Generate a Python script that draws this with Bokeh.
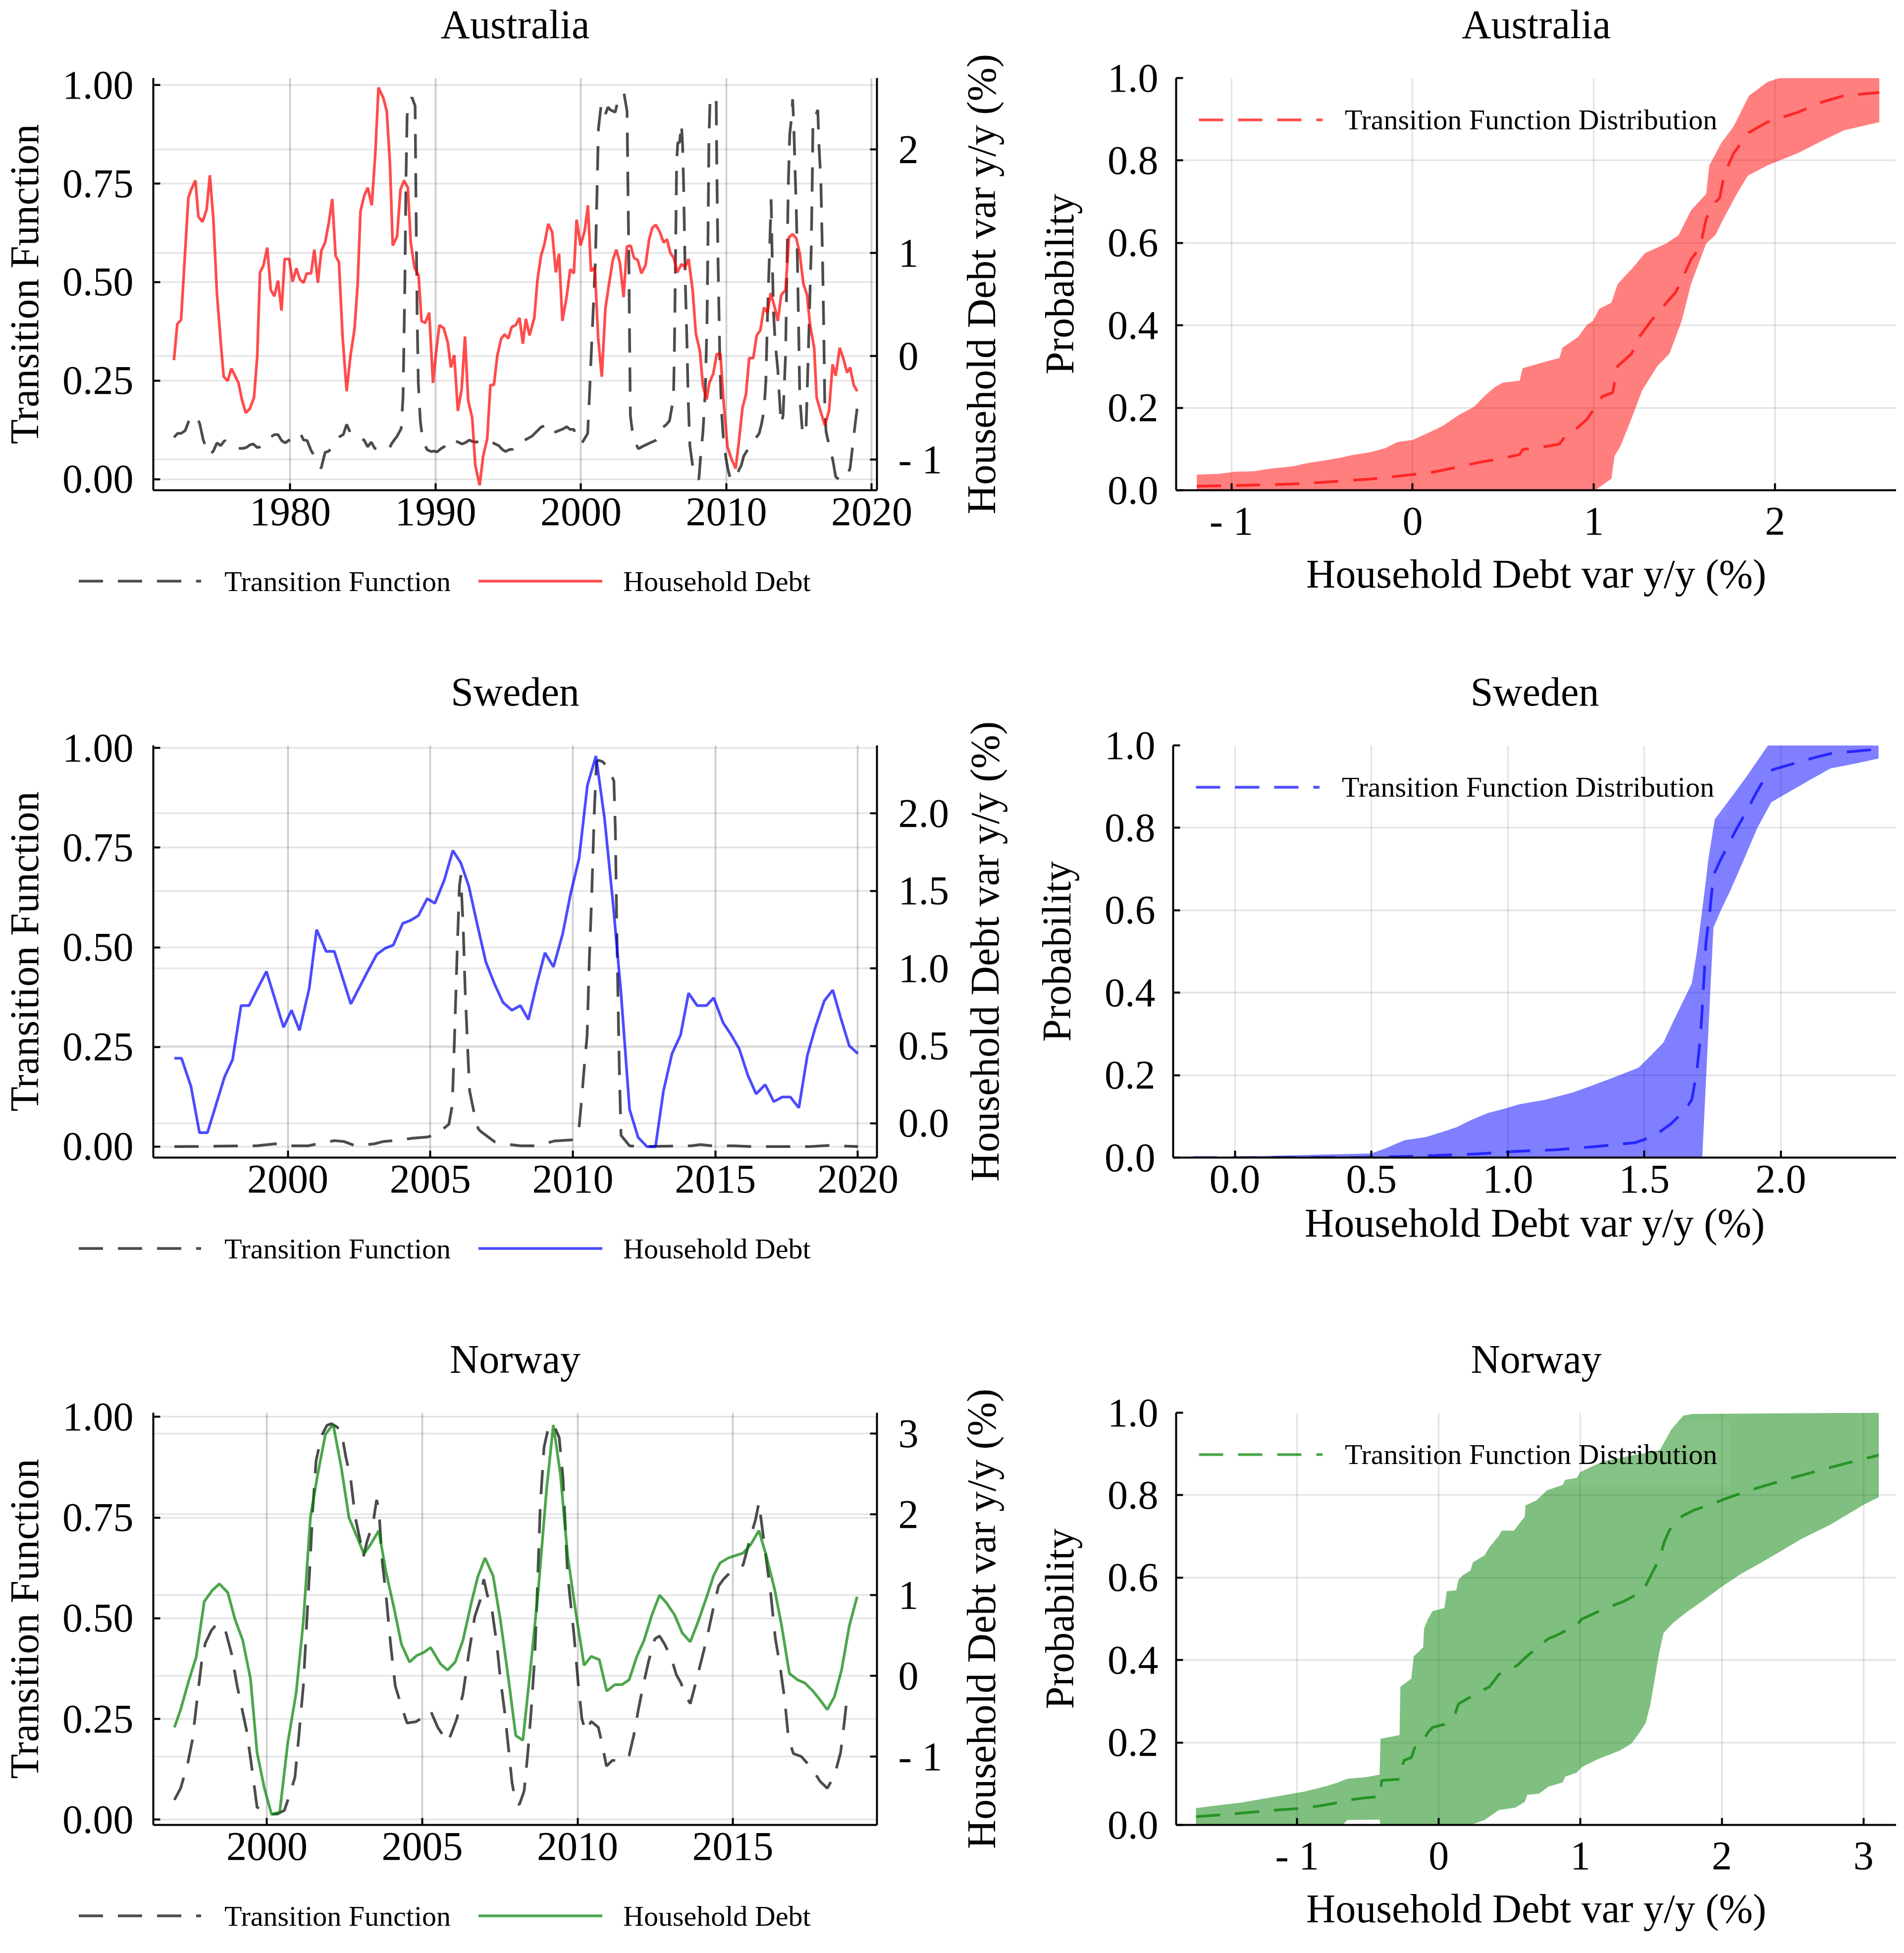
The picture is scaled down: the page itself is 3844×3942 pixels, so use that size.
from bokeh.embed import file_html
from bokeh.layouts import column, row
from bokeh.models import CustomJSTickFormatter, Div, FixedTicker, Grid, Legend, LinearAxis, Range1d
from bokeh.plotting import figure
from bokeh.resources import INLINE

FONT = 'Liberation Serif'
TF_COLOR = 'black'
LEFT_W, RIGHT_W = 1932, 1896
TOP, FRAME_H = 154, 835
ROW_H = [1347, 1347, 1232]
TS_H = TOP + FRAME_H + 132          # time-series figure; its legend strip sits below it
HD_LABEL = 'Household Debt var y/y (%)'
LINE_W = 5.5

# ---- Australia: household debt (y/y %) and transition function over time
AUS_HD = [
    (1972.00, -0.04), (1972.23, 0.31), (1972.49, 0.35), (1972.99, 1.53), (1973.18, 1.61), (1973.48, 1.70),
    (1973.68, 1.35), (1973.97, 1.30), (1974.25, 1.42), (1974.47, 1.75), (1974.71, 1.33), (1974.96, 0.60),
    (1975.21, 0.15), (1975.42, -0.20), (1975.70, -0.24), (1975.95, -0.12), (1976.20, -0.19), (1976.44, -0.26),
    (1976.69, -0.43), (1976.94, -0.55), (1977.22, -0.51), (1977.51, -0.40), (1977.73, 0.00), (1977.92, 0.81),
    (1978.14, 0.87), (1978.42, 1.05), (1978.66, 0.64), (1978.91, 0.58), (1979.16, 0.73), (1979.40, 0.44),
    (1979.62, 0.94), (1979.93, 0.94), (1980.16, 0.72), (1980.42, 0.85), (1980.67, 0.74), (1980.92, 0.71),
    (1981.13, 0.80), (1981.43, 0.80), (1981.66, 1.03), (1981.90, 0.71), (1982.14, 1.02), (1982.40, 1.10),
    (1982.65, 1.29), (1982.89, 1.52), (1983.12, 0.97), (1983.35, 0.91), (1983.60, 0.19), (1983.88, -0.34),
    (1984.14, 0.00), (1984.42, 0.26), (1984.64, 0.70), (1984.83, 1.40), (1985.08, 1.55), (1985.33, 1.63),
    (1985.61, 1.46), (1985.85, 1.96), (1986.07, 2.60), (1986.40, 2.50), (1986.64, 2.37), (1986.86, 1.86),
    (1987.05, 1.07), (1987.35, 1.16), (1987.58, 1.61), (1987.83, 1.70), (1988.09, 1.63), (1988.29, 1.10),
    (1988.54, 0.86), (1988.83, 0.78), (1989.03, 0.34), (1989.28, 0.32), (1989.56, 0.42), (1989.82, -0.26),
    (1990.02, 0.02), (1990.26, 0.30), (1990.56, 0.27), (1990.84, 0.13), (1991.05, -0.11), (1991.28, 0.01),
    (1991.53, -0.53), (1991.79, -0.32), (1992.02, 0.19), (1992.24, -0.43), (1992.52, -0.60), (1992.73, -1.06),
    (1993.03, -1.25), (1993.27, -0.97), (1993.55, -0.80), (1993.77, -0.28), (1994.01, -0.28), (1994.24, 0.00),
    (1994.51, 0.17), (1994.75, 0.21), (1995.00, 0.17), (1995.23, 0.28), (1995.51, 0.30), (1995.77, 0.37),
    (1996.00, 0.12), (1996.21, 0.36), (1996.46, 0.20), (1996.79, 0.37), (1997.00, 0.73), (1997.25, 0.97),
    (1997.48, 1.08), (1997.75, 1.28), (1998.02, 1.20), (1998.27, 0.81), (1998.49, 0.99), (1998.72, 0.34),
    (1999.01, 0.57), (1999.26, 0.84), (1999.51, 0.80), (1999.70, 1.32), (1999.97, 1.07), (2000.25, 1.21),
    (2000.48, 1.46), (2000.69, 0.82), (2000.95, 0.86), (2001.18, 0.18), (2001.43, -0.20), (2001.68, 0.46),
    (2001.92, 0.69), (2002.19, 0.93), (2002.43, 1.03), (2002.68, 0.90), (2002.93, 0.57), (2003.16, 1.06),
    (2003.42, 1.07), (2003.65, 0.95), (2003.90, 0.93), (2004.16, 0.80), (2004.44, 0.88), (2004.69, 1.13),
    (2004.90, 1.24), (2005.15, 1.27), (2005.43, 1.20), (2005.68, 1.10), (2005.92, 1.13), (2006.14, 1.00),
    (2006.38, 0.95), (2006.63, 0.81), (2006.91, 0.89), (2007.16, 0.86), (2007.40, 0.94), (2007.68, 0.64),
    (2007.90, 0.22), (2008.18, 0.05), (2008.39, -0.29), (2008.64, -0.42), (2008.83, -0.26), (2009.10, -0.17),
    (2009.34, 0.02), (2009.59, 0.02), (2009.82, -0.46), (2010.08, -0.88), (2010.36, -1.00), (2010.64, -1.09),
    (2010.86, -0.83), (2011.11, -0.50), (2011.35, -0.37), (2011.57, -0.02), (2011.85, -0.02), (2012.09, 0.20),
    (2012.34, 0.25), (2012.59, 0.47), (2012.83, 0.42), (2013.05, 0.61), (2013.33, 0.47), (2013.54, 0.34),
    (2013.77, 0.59), (2014.07, 0.64), (2014.31, 1.15), (2014.56, 1.18), (2014.81, 1.14), (2015.05, 0.99),
    (2015.30, 0.70), (2015.55, 0.59), (2015.76, 0.30), (2016.04, 0.08), (2016.21, -0.40), (2016.49, -0.54),
    (2016.78, -0.67), (2017.06, -0.53), (2017.31, -0.08), (2017.52, -0.19), (2017.80, 0.08), (2018.06, -0.03),
    (2018.30, -0.16), (2018.51, -0.11), (2018.76, -0.28), (2019.00, -0.34),
]
AUS_TF = [
    (1972.00, 0.106), (1972.25, 0.116), (1972.49, 0.116), (1972.77, 0.123), (1973.02, 0.147), (1973.32, 0.161),
    (1973.56, 0.159), (1973.78, 0.140), (1974.01, 0.100), (1974.27, 0.075), (1974.43, 0.061), (1974.71, 0.071),
    (1974.96, 0.092), (1975.21, 0.085), (1975.49, 0.098), (1975.78, 0.089), (1976.11, 0.082), (1976.41, 0.078),
    (1976.74, 0.078), (1976.97, 0.080), (1977.23, 0.087), (1977.46, 0.089), (1977.73, 0.080), (1977.92, 0.082),
    (1978.25, 0.092), (1978.66, 0.107), (1978.91, 0.113), (1979.16, 0.113), (1979.40, 0.098), (1979.65, 0.092),
    (1980.01, 0.101), (1980.34, 0.109), (1980.67, 0.118), (1980.92, 0.099), (1981.16, 0.098), (1981.43, 0.073),
    (1981.79, 0.051), (1982.12, 0.027), (1982.40, 0.068), (1982.61, 0.070), (1982.78, 0.076), (1983.11, 0.092),
    (1983.44, 0.109), (1983.65, 0.113), (1983.88, 0.139), (1984.13, 0.118), (1984.31, 0.118), (1984.70, 0.107),
    (1985.08, 0.099), (1985.33, 0.082), (1985.57, 0.094), (1985.82, 0.078), (1986.15, 0.073), (1986.48, 0.073),
    (1986.81, 0.078), (1987.01, 0.092), (1987.35, 0.109), (1987.63, 0.128), (1987.76, 0.209), (1987.88, 0.483),
    (1987.96, 0.758), (1988.04, 0.923), (1988.16, 0.947), (1988.37, 0.969), (1988.59, 0.947), (1988.65, 0.703),
    (1988.73, 0.415), (1988.81, 0.243), (1988.95, 0.147), (1989.11, 0.099), (1989.41, 0.075), (1989.69, 0.070),
    (1989.90, 0.071), (1990.10, 0.069), (1990.39, 0.078), (1990.59, 0.082), (1990.84, 0.099), (1991.25, 0.099),
    (1991.83, 0.089), (1992.07, 0.093), (1992.32, 0.099), (1992.57, 0.095), (1992.81, 0.094), (1993.11, 0.097),
    (1993.39, 0.099), (1993.88, 0.093), (1994.34, 0.085), (1994.59, 0.075), (1994.82, 0.070), (1995.08, 0.075),
    (1995.31, 0.076), (1995.47, 0.084), (1995.72, 0.087), (1996.13, 0.099), (1996.63, 0.109), (1996.96, 0.121),
    (1997.25, 0.132), (1997.48, 0.135), (1997.75, 0.116), (1998.27, 0.120), (1998.80, 0.128), (1999.01, 0.133),
    (1999.26, 0.126), (1999.51, 0.126), (1999.72, 0.098), (2000.08, 0.092), (2000.46, 0.116), (2000.58, 0.209),
    (2000.74, 0.346), (2000.99, 0.552), (2001.10, 0.724), (2001.20, 0.889), (2001.40, 0.954), (2001.56, 0.940),
    (2001.69, 0.927), (2001.86, 0.944), (2002.02, 0.937), (2002.35, 0.931), (2002.55, 0.961), (2002.71, 0.975),
    (2002.96, 0.979), (2003.17, 0.933), (2003.22, 0.772), (2003.29, 0.566), (2003.34, 0.367), (2003.40, 0.161),
    (2003.54, 0.119), (2003.70, 0.095), (2003.95, 0.077), (2004.19, 0.082), (2004.69, 0.091), (2005.18, 0.099),
    (2005.38, 0.111), (2005.64, 0.132), (2005.84, 0.137), (2006.09, 0.148), (2006.28, 0.188), (2006.37, 0.223),
    (2006.42, 0.312), (2006.50, 0.552), (2006.58, 0.806), (2006.66, 0.854), (2006.78, 0.854), (2006.91, 0.902),
    (2006.99, 0.847), (2007.06, 0.744), (2007.12, 0.621), (2007.19, 0.483), (2007.29, 0.346), (2007.37, 0.209),
    (2007.49, 0.085), (2007.68, 0.034), (2007.90, 0.003), (2008.11, 0.000), (2008.23, 0.058), (2008.39, 0.120),
    (2008.55, 0.223), (2008.67, 0.401), (2008.74, 0.621), (2008.80, 0.861), (2008.88, 0.964), (2009.05, 0.971),
    (2009.30, 0.964), (2009.34, 0.806), (2009.41, 0.593), (2009.49, 0.429), (2009.56, 0.291), (2009.66, 0.175),
    (2009.79, 0.106), (2009.95, 0.058), (2010.12, 0.023), (2010.28, 0.000), (2010.61, 0.000), (2010.86, 0.023),
    (2011.02, 0.034), (2011.19, 0.058), (2011.40, 0.071), (2011.60, 0.082), (2011.93, 0.099), (2012.26, 0.116),
    (2012.42, 0.140), (2012.59, 0.174), (2012.72, 0.250), (2012.83, 0.415), (2012.95, 0.552), (2013.03, 0.648),
    (2013.08, 0.710), (2013.14, 0.587), (2013.24, 0.428), (2013.36, 0.346), (2013.54, 0.278), (2013.66, 0.202),
    (2013.77, 0.140), (2013.90, 0.161), (2014.07, 0.312), (2014.20, 0.607), (2014.26, 0.744), (2014.36, 0.875),
    (2014.48, 0.916), (2014.56, 0.964), (2014.64, 0.896), (2014.72, 0.792), (2014.81, 0.683), (2014.89, 0.552),
    (2014.97, 0.387), (2015.05, 0.209), (2015.22, 0.126), (2015.47, 0.113), (2015.55, 0.209), (2015.71, 0.415),
    (2015.84, 0.587), (2015.91, 0.758), (2015.96, 0.913), (2016.12, 0.920), (2016.29, 0.937), (2016.37, 0.848),
    (2016.50, 0.758), (2016.62, 0.552), (2016.70, 0.380), (2016.78, 0.168), (2016.86, 0.120), (2017.03, 0.092),
    (2017.19, 0.071), (2017.36, 0.041), (2017.52, 0.006), (2017.72, 0.000), (2018.15, 0.000), (2018.51, 0.027),
    (2018.67, 0.078), (2018.84, 0.133), (2019.00, 0.181),
]

# ---- Sweden
SWE_HD = [
    (1996.02, 0.42), (1996.27, 0.42), (1996.60, 0.24), (1996.90, -0.06), (1997.18, -0.06), (1997.48, 0.12),
    (1997.78, 0.30), (1998.06, 0.41), (1998.36, 0.76), (1998.64, 0.76), (1998.94, 0.87), (1999.25, 0.98),
    (1999.55, 0.80), (1999.85, 0.62), (2000.13, 0.73), (2000.41, 0.60), (2000.75, 0.87), (2001.01, 1.25),
    (2001.34, 1.11), (2001.63, 1.11), (2001.92, 0.94), (2002.21, 0.77), (2002.49, 0.87), (2002.80, 0.98),
    (2003.12, 1.09), (2003.42, 1.13), (2003.70, 1.15), (2004.03, 1.29), (2004.31, 1.31), (2004.58, 1.34),
    (2004.89, 1.45), (2005.16, 1.42), (2005.49, 1.57), (2005.79, 1.76), (2006.07, 1.68), (2006.35, 1.53),
    (2006.65, 1.28), (2006.95, 1.04), (2007.25, 0.90), (2007.55, 0.78), (2007.86, 0.73), (2008.16, 0.76),
    (2008.44, 0.67), (2008.72, 0.89), (2009.02, 1.10), (2009.32, 1.01), (2009.64, 1.22), (2009.92, 1.48),
    (2010.22, 1.71), (2010.51, 2.18), (2010.81, 2.37), (2011.11, 1.97), (2011.41, 1.42), (2011.69, 0.84),
    (2011.99, 0.09), (2012.29, -0.09), (2012.60, -0.15), (2012.90, -0.15), (2013.18, 0.21), (2013.48, 0.45),
    (2013.78, 0.57), (2014.06, 0.84), (2014.36, 0.76), (2014.69, 0.76), (2014.94, 0.81), (2015.27, 0.65),
    (2015.56, 0.57), (2015.84, 0.48), (2016.14, 0.31), (2016.43, 0.19), (2016.75, 0.25), (2017.05, 0.14),
    (2017.35, 0.17), (2017.63, 0.17), (2017.93, 0.10), (2018.23, 0.44), (2018.51, 0.62), (2018.82, 0.79),
    (2019.12, 0.86), (2019.40, 0.68), (2019.70, 0.50), (2020.00, 0.45),
]
SWE_TF = [
    (1996.02, 0.000), (1998.89, 0.002), (1999.55, 0.007), (1999.88, 0.002), (2000.71, 0.002), (2001.04, 0.007),
    (2001.63, 0.015), (2001.96, 0.013), (2002.37, 0.002), (2003.03, 0.007), (2003.37, 0.013), (2003.86, 0.016),
    (2004.36, 0.021), (2004.89, 0.024), (2005.22, 0.031), (2005.65, 0.056), (2005.77, 0.104), (2005.85, 0.278),
    (2005.94, 0.486), (2006.02, 0.653), (2006.07, 0.681), (2006.12, 0.598), (2006.15, 0.556), (2006.22, 0.396),
    (2006.32, 0.229), (2006.38, 0.139), (2006.52, 0.090), (2006.68, 0.045), (2006.77, 0.038), (2007.26, 0.012),
    (2007.68, 0.006), (2008.18, 0.002), (2008.67, 0.002), (2009.00, 0.007), (2009.34, 0.014), (2010.00, 0.017),
    (2010.20, 0.035), (2010.30, 0.111), (2010.41, 0.208), (2010.50, 0.278), (2010.58, 0.473), (2010.66, 0.625),
    (2010.75, 0.834), (2010.83, 0.966), (2010.91, 0.969), (2011.03, 0.966), (2011.24, 0.952), (2011.44, 0.917),
    (2011.49, 0.799), (2011.54, 0.556), (2011.59, 0.347), (2011.63, 0.195), (2011.69, 0.028), (2011.99, 0.002),
    (2012.32, 0.000), (2014.15, 0.002), (2014.48, 0.005), (2014.89, 0.002), (2015.64, 0.002), (2016.30, 0.000),
    (2018.29, 0.000), (2018.96, 0.003), (2020.00, 0.000),
]

# ---- Norway
NOR_HD = [
    (1997.02, -0.64), (1997.22, -0.42), (1997.49, -0.05), (1997.72, 0.23), (1997.98, 0.92), (1998.24, 1.06),
    (1998.47, 1.14), (1998.74, 1.03), (1998.97, 0.70), (1999.22, 0.44), (1999.47, -0.04), (1999.68, -0.95),
    (1999.92, -1.40), (2000.15, -1.72), (2000.41, -1.69), (2000.67, -0.83), (2000.94, -0.21), (2001.17, 0.67),
    (2001.40, 1.97), (2001.63, 2.49), (2001.88, 2.99), (2002.13, 3.12), (2002.39, 2.59), (2002.64, 1.96),
    (2002.89, 1.73), (2003.12, 1.51), (2003.34, 1.63), (2003.60, 1.80), (2003.83, 1.29), (2004.09, 0.84),
    (2004.33, 0.39), (2004.59, 0.17), (2004.82, 0.25), (2005.05, 0.29), (2005.27, 0.35), (2005.58, 0.15),
    (2005.81, 0.07), (2006.06, 0.17), (2006.31, 0.44), (2006.57, 0.89), (2006.79, 1.23), (2007.02, 1.46),
    (2007.28, 1.24), (2007.52, 0.68), (2007.78, -0.05), (2008.01, -0.74), (2008.24, -0.80), (2008.50, 0.15),
    (2008.74, 1.08), (2009.00, 2.30), (2009.22, 3.11), (2009.45, 2.49), (2009.68, 1.49), (2009.95, 0.77),
    (2010.21, 0.13), (2010.44, 0.24), (2010.70, 0.20), (2010.94, -0.19), (2011.20, -0.11), (2011.43, -0.11),
    (2011.66, -0.05), (2011.91, 0.24), (2012.14, 0.44), (2012.39, 0.75), (2012.64, 1.00), (2012.87, 0.90),
    (2013.13, 0.75), (2013.37, 0.53), (2013.63, 0.42), (2013.89, 0.68), (2014.16, 0.98), (2014.39, 1.25),
    (2014.59, 1.40), (2014.85, 1.46), (2015.08, 1.49), (2015.33, 1.52), (2015.58, 1.63), (2015.84, 1.80),
    (2016.06, 1.51), (2016.34, 1.08), (2016.57, 0.62), (2016.82, 0.03), (2017.08, -0.05), (2017.32, -0.09),
    (2017.58, -0.19), (2017.81, -0.30), (2018.04, -0.42), (2018.27, -0.26), (2018.50, 0.07), (2018.75, 0.62),
    (2019.00, 0.98),
]
NOR_TF = [
    (1997.02, 0.049), (1997.22, 0.078), (1997.45, 0.140), (1997.60, 0.198), (1997.75, 0.298), (1997.90, 0.394),
    (1998.01, 0.437), (1998.21, 0.470), (1998.40, 0.487), (1998.66, 0.470), (1998.86, 0.412), (1999.04, 0.332),
    (1999.19, 0.277), (1999.35, 0.219), (1999.53, 0.119), (1999.68, 0.031), (1999.83, 0.024), (2000.11, 0.014),
    (2000.33, 0.014), (2000.56, 0.023), (2000.71, 0.057), (2000.90, 0.105), (2001.02, 0.202), (2001.17, 0.332),
    (2001.29, 0.504), (2001.40, 0.656), (2001.47, 0.766), (2001.58, 0.890), (2001.75, 0.952), (2001.93, 0.979),
    (2002.08, 0.983), (2002.23, 0.976), (2002.39, 0.966), (2002.54, 0.900), (2002.69, 0.849), (2002.84, 0.752),
    (2002.99, 0.697), (2003.10, 0.652), (2003.22, 0.690), (2003.42, 0.738), (2003.53, 0.794), (2003.60, 0.773),
    (2003.71, 0.642), (2003.83, 0.560), (2003.98, 0.436), (2004.13, 0.332), (2004.32, 0.284), (2004.51, 0.240),
    (2004.79, 0.243), (2005.09, 0.257), (2005.27, 0.270), (2005.50, 0.229), (2005.81, 0.193), (2005.91, 0.209),
    (2006.11, 0.250), (2006.31, 0.312), (2006.49, 0.408), (2006.69, 0.504), (2006.87, 0.546), (2006.98, 0.597),
    (2007.13, 0.546), (2007.25, 0.518), (2007.40, 0.436), (2007.52, 0.346), (2007.66, 0.264), (2007.78, 0.174),
    (2007.89, 0.092), (2008.01, 0.040), (2008.13, 0.038), (2008.28, 0.071), (2008.40, 0.167), (2008.50, 0.264),
    (2008.62, 0.401), (2008.69, 0.539), (2008.80, 0.780), (2008.92, 0.924), (2009.04, 0.966), (2009.22, 0.983),
    (2009.41, 0.948), (2009.53, 0.849), (2009.68, 0.608), (2009.88, 0.463), (2010.02, 0.339), (2010.14, 0.250),
    (2010.26, 0.219), (2010.44, 0.244), (2010.67, 0.229), (2010.79, 0.188), (2010.93, 0.133), (2011.12, 0.147),
    (2011.43, 0.147), (2011.66, 0.160), (2011.81, 0.209), (2011.96, 0.274), (2012.11, 0.332), (2012.29, 0.394),
    (2012.49, 0.449), (2012.64, 0.456), (2012.80, 0.436), (2013.02, 0.401), (2013.18, 0.360), (2013.33, 0.339),
    (2013.48, 0.308), (2013.63, 0.288), (2013.78, 0.332), (2013.94, 0.381), (2014.16, 0.449), (2014.39, 0.532),
    (2014.54, 0.580), (2014.70, 0.597), (2014.88, 0.611), (2015.12, 0.621), (2015.33, 0.632), (2015.53, 0.690),
    (2015.73, 0.745), (2015.84, 0.787), (2015.91, 0.745), (2016.06, 0.656), (2016.22, 0.560), (2016.37, 0.449),
    (2016.52, 0.381), (2016.67, 0.298), (2016.79, 0.202), (2016.95, 0.164), (2017.20, 0.157), (2017.40, 0.140),
    (2017.58, 0.123), (2017.81, 0.095), (2018.04, 0.078), (2018.27, 0.109), (2018.47, 0.167), (2018.57, 0.229),
    (2018.69, 0.312),
]

# ---- transition function distribution vs household debt: upper / lower band and mean
AUS_UPPER = [
    (-1.191, 0.038), (-1.063, 0.040), (-0.979, 0.045), (-0.877, 0.046), (-0.776, 0.053), (-0.658, 0.058),
    (-0.591, 0.065), (-0.506, 0.071), (-0.405, 0.078), (-0.337, 0.085), (-0.236, 0.092), (-0.152, 0.102),
    (-0.084, 0.117), (0.000, 0.122), (0.101, 0.142), (0.169, 0.157), (0.253, 0.182), (0.337, 0.202),
    (0.405, 0.232), (0.456, 0.251), (0.499, 0.261), (0.591, 0.266), (0.607, 0.296), (0.726, 0.311),
    (0.810, 0.321), (0.827, 0.346), (0.911, 0.371), (0.962, 0.401), (0.996, 0.411), (1.029, 0.440),
    (1.097, 0.455), (1.131, 0.500), (1.215, 0.540), (1.282, 0.575), (1.401, 0.599), (1.468, 0.619),
    (1.536, 0.679), (1.620, 0.719), (1.637, 0.788), (1.704, 0.843), (1.772, 0.883), (1.856, 0.957),
    (1.957, 0.990), (2.025, 1.000), (2.575, 1.000),
]
AUS_LOWER = [
    (-1.191, 0.0), (1.006, 0.0), (1.097, 0.028), (1.114, 0.083), (1.147, 0.107), (1.215, 0.182),
    (1.266, 0.242), (1.350, 0.301), (1.417, 0.331), (1.485, 0.411), (1.536, 0.500), (1.620, 0.599),
    (1.671, 0.619), (1.704, 0.649), (1.789, 0.719), (1.849, 0.763), (1.957, 0.788), (2.126, 0.818),
    (2.261, 0.848), (2.379, 0.873), (2.575, 0.893),
]
AUS_MEAN = [
    (-1.191, 0.010), (-0.911, 0.012), (-0.675, 0.015), (-0.506, 0.019), (-0.236, 0.027), (0.000, 0.038),
    (0.101, 0.043), (0.236, 0.055), (0.371, 0.068), (0.506, 0.078), (0.591, 0.087), (0.607, 0.099),
    (0.709, 0.104), (0.810, 0.112), (0.844, 0.132), (0.911, 0.152), (0.962, 0.172), (0.996, 0.194),
    (1.046, 0.227), (1.104, 0.237), (1.131, 0.301), (1.208, 0.331), (1.249, 0.371), (1.316, 0.411),
    (1.401, 0.455), (1.451, 0.480), (1.485, 0.510), (1.536, 0.560), (1.586, 0.589), (1.620, 0.659),
    (1.671, 0.699), (1.694, 0.709), (1.721, 0.768), (1.772, 0.818), (1.856, 0.868), (1.957, 0.893),
    (2.126, 0.917), (2.261, 0.942), (2.379, 0.957), (2.575, 0.965),
]

SWE_UPPER = [
    (-0.153, 0.0), (0.499, 0.010), (0.543, 0.020), (0.621, 0.042), (0.700, 0.050), (0.769, 0.064),
    (0.813, 0.074), (0.865, 0.091), (0.926, 0.108), (0.995, 0.120), (1.039, 0.129), (1.135, 0.140),
    (1.239, 0.158), (1.309, 0.175), (1.378, 0.192), (1.479, 0.218), (1.526, 0.249), (1.570, 0.279),
    (1.605, 0.329), (1.674, 0.423), (1.692, 0.497), (1.718, 0.632), (1.735, 0.726), (1.758, 0.821),
    (1.822, 0.877), (1.874, 0.924), (1.953, 1.000), (2.358, 1.000),
]
SWE_LOWER = [
    (-0.153, 0.0), (1.712, 0.0), (1.753, 0.558), (1.779, 0.598), (1.813, 0.645), (1.862, 0.719),
    (1.914, 0.800), (1.965, 0.862), (2.022, 0.884), (2.109, 0.917), (2.182, 0.944), (2.275, 0.956),
    (2.358, 0.968),
]
SWE_MEAN = [
    (-0.153, 0.000), (0.473, 0.000), (0.578, 0.002), (0.734, 0.005), (0.891, 0.009), (1.030, 0.015),
    (1.178, 0.019), (1.326, 0.027), (1.465, 0.036), (1.535, 0.052), (1.596, 0.081), (1.648, 0.114),
    (1.674, 0.141), (1.692, 0.208), (1.706, 0.296), (1.718, 0.430), (1.726, 0.524), (1.740, 0.598),
    (1.753, 0.685), (1.779, 0.722), (1.813, 0.766), (1.840, 0.800), (1.874, 0.840), (1.909, 0.884),
    (1.944, 0.924), (1.970, 0.941), (2.048, 0.956), (2.127, 0.971), (2.188, 0.981), (2.275, 0.986),
    (2.358, 0.991),
]

NOR_UPPER = [
    (-1.715, 0.041), (-1.547, 0.048), (-1.397, 0.054), (-1.247, 0.063), (-1.113, 0.071), (-0.946, 0.081),
    (-0.795, 0.094), (-0.712, 0.103), (-0.645, 0.112), (-0.511, 0.116), (-0.418, 0.122), (-0.411, 0.209),
    (-0.277, 0.218), (-0.271, 0.335), (-0.194, 0.355), (-0.177, 0.409), (-0.110, 0.431), (-0.104, 0.476),
    (-0.077, 0.499), (-0.043, 0.519), (0.040, 0.526), (0.057, 0.567), (0.124, 0.569), (0.140, 0.595),
    (0.174, 0.607), (0.224, 0.617), (0.241, 0.637), (0.324, 0.654), (0.358, 0.674), (0.424, 0.701),
    (0.445, 0.714), (0.531, 0.714), (0.608, 0.748), (0.612, 0.775), (0.692, 0.788), (0.765, 0.812),
    (0.876, 0.825), (0.892, 0.837), (0.976, 0.842), (0.999, 0.856), (1.160, 0.882), (1.360, 0.896),
    (1.561, 0.909), (1.644, 0.960), (1.728, 0.993), (1.795, 0.997), (3.108, 1.000),
]
NOR_LOWER = [
    (-1.715, 0.0), (-0.678, 0.0), (-0.645, 0.012), (-0.418, 0.013), (-0.411, 0.0), (0.224, 0.0),
    (0.324, 0.012), (0.424, 0.036), (0.541, 0.042), (0.608, 0.056), (0.625, 0.073), (0.709, 0.076),
    (0.775, 0.093), (0.876, 0.103), (0.892, 0.117), (0.976, 0.127), (1.009, 0.140), (1.126, 0.160),
    (1.277, 0.180), (1.360, 0.197), (1.410, 0.220), (1.461, 0.247), (1.494, 0.291), (1.521, 0.345),
    (1.554, 0.412), (1.588, 0.466), (1.661, 0.492), (1.761, 0.519), (1.862, 0.543), (1.995, 0.577),
    (2.129, 0.608), (2.296, 0.640), (2.430, 0.667), (2.563, 0.694), (2.764, 0.728), (2.998, 0.776),
    (3.108, 0.795),
]
NOR_MEAN = [
    (-1.715, 0.020), (-1.447, 0.027), (-1.146, 0.036), (-0.979, 0.040), (-0.846, 0.046), (-0.745, 0.052),
    (-0.645, 0.060), (-0.511, 0.066), (-0.411, 0.069), (-0.404, 0.108), (-0.277, 0.111), (-0.271, 0.130),
    (-0.244, 0.157), (-0.194, 0.163), (-0.170, 0.187), (-0.127, 0.194), (-0.077, 0.224), (-0.043, 0.237),
    (0.040, 0.244), (0.117, 0.271), (0.140, 0.294), (0.191, 0.304), (0.307, 0.326), (0.358, 0.335),
    (0.424, 0.365), (0.508, 0.378), (0.558, 0.388), (0.608, 0.405), (0.692, 0.429), (0.775, 0.452),
    (0.826, 0.459), (0.926, 0.476), (0.976, 0.486), (1.009, 0.499), (1.160, 0.523), (1.310, 0.543),
    (1.420, 0.563), (1.461, 0.580), (1.511, 0.614), (1.561, 0.647), (1.594, 0.688), (1.628, 0.714),
    (1.678, 0.738), (1.728, 0.751), (1.811, 0.765), (1.928, 0.778), (2.029, 0.792), (2.196, 0.812),
    (2.363, 0.829), (2.497, 0.842), (2.731, 0.864), (2.898, 0.879), (3.108, 0.897),
]


def split(pairs):
    return [a for a, _ in pairs], [b for _, b in pairs]


def tick_format(digits):
    # GR style minus: "- 1"
    return CustomJSTickFormatter(args=dict(d=digits), code="""
        const s = Math.abs(tick).toFixed(d);
        return tick < 0 ? '- ' + s : s;
    """)


def style_axis(ax, standoff, label_standoff):
    ax.axis_line_width = 4
    ax.axis_line_color = 'black'
    ax.major_tick_in = 14
    ax.major_tick_out = 0
    ax.major_tick_line_width = 4
    ax.major_tick_line_color = 'black'
    ax.minor_tick_line_color = None
    ax.major_label_standoff = standoff
    ax.axis_label_standoff = label_standoff
    ax.major_label_text_font = FONT
    ax.major_label_text_font_size = '82px'
    ax.major_label_text_color = 'black'
    ax.axis_label_text_font = FONT
    ax.axis_label_text_font_size = '82px'
    ax.axis_label_text_font_style = 'normal'
    ax.axis_label_text_color = 'black'


def text_axis(text, standoff):
    # an axis with no ticks, used only to carry a text (titles, outer labels)
    ax = LinearAxis(ticker=FixedTicker(ticks=[]), axis_label=text)
    style_axis(ax, 0, standoff)
    ax.axis_line_color = None
    ax.major_tick_in = 0
    return ax


def style_grid(grids, alpha):
    grids.grid_line_color = 'black'
    grids.grid_line_alpha = alpha
    grids.grid_line_width = 3.5


def series_panel(title, tf, hd, color, x_range, tf_range, hd_range, x_ticks, hd_ticks, hd_digits):
    p = figure(width=LEFT_W, height=TS_H, x_range=Range1d(*x_range), y_range=Range1d(*tf_range),
               min_border_left=303, min_border_right=LEFT_W - 303 - 1467, min_border_top=TOP,
               min_border_bottom=TS_H - TOP - FRAME_H,
               output_backend='svg', toolbar_location=None)
    p.outline_line_color = None
    tf_axis = p.left[0]
    x_axis = p.below[0]
    p.add_layout(text_axis(title, 63), 'above')

    p.extra_y_ranges = {'hd': Range1d(*hd_range)}
    hd_axis = LinearAxis(y_range_name='hd', ticker=FixedTicker(ticks=hd_ticks), formatter=tick_format(hd_digits))
    p.add_layout(hd_axis, 'right')
    hd_grid = Grid(dimension=1, ticker=FixedTicker(ticks=hd_ticks), y_range_name='hd')
    p.add_layout(hd_grid)

    tf_axis.axis_label = 'Transition Function'
    tf_axis.ticker = FixedTicker(ticks=[0, 0.25, 0.5, 0.75, 1])
    tf_axis.formatter = tick_format(2)
    x_axis.ticker = FixedTicker(ticks=x_ticks)
    x_axis.formatter = tick_format(0)
    style_axis(tf_axis, 40, 28)
    style_axis(hd_axis, 43, 0)
    style_axis(x_axis, 16, 0)
    style_grid(p.xgrid, 0.2)
    style_grid(p.ygrid, 0.1)
    style_grid(hd_grid, 0.1)

    tx, ty = split(tf)
    hx, hy = split(hd)
    p.line(tx, ty, line_color=TF_COLOR, line_alpha=0.7, line_width=LINE_W, line_dash='49 30')
    p.line(hx, hy, y_range_name='hd', line_color=color, line_alpha=0.7, line_width=LINE_W)
    return p


def legend_strip(color, height):
    # legend of the time-series panel; it starts left of the panel's frame, so it is drawn
    # in a strip of its own under the figure
    cy = 52
    font = f"font-family: '{FONT}', serif; font-size: 58px; fill: black;"
    svg = f"""
<svg xmlns="http://www.w3.org/2000/svg" width="{LEFT_W}" height="{height}">
  <line x1="159" y1="{cy}" x2="406" y2="{cy}" stroke="{TF_COLOR}" stroke-opacity="0.7"
        stroke-width="{LINE_W}" stroke-dasharray="49 30"/>
  <text x="453" y="{cy}" dominant-baseline="central" style="{font}">Transition Function</text>
  <line x1="966" y1="{cy}" x2="1216" y2="{cy}" stroke="{color}" stroke-opacity="0.7"
        stroke-width="{LINE_W}"/>
  <text x="1258" y="{cy}" dominant-baseline="central" style="{font}">Household Debt</text>
</svg>"""
    return Div(text=svg, width=LEFT_W, height=height, margin=0)


def dist_panel(title, upper, lower, mean, color, x_range, x_ticks, x_digits, hd_label_standoff, height):
    q = figure(width=RIGHT_W, height=height, x_range=Range1d(*x_range), y_range=Range1d(0, 1),
               min_border_left=RIGHT_W - 1460, min_border_right=0, min_border_top=TOP,
               min_border_bottom=height - TOP - FRAME_H,
               output_backend='svg', toolbar_location=None)
    q.outline_line_color = None
    x_axis = q.below[0]
    y_axis = q.left[0]
    q.add_layout(text_axis(title, 63), 'above')

    x_axis.axis_label = HD_LABEL
    x_axis.ticker = FixedTicker(ticks=x_ticks)
    x_axis.formatter = tick_format(x_digits)
    y_axis.axis_label = 'Probability'
    y_axis.ticker = FixedTicker(ticks=[0, 0.2, 0.4, 0.6, 0.8, 1.0])
    y_axis.formatter = tick_format(1)
    style_axis(x_axis, 16, 13)
    style_axis(y_axis, 36, 48)
    style_grid(q.xgrid, 0.1)
    style_grid(q.ygrid, 0.1)
    # right-hand axis title of the time-series panel next to it
    q.add_layout(text_axis(HD_LABEL, hd_label_standoff), 'left')

    ux, uy = split(upper)
    lx, ly = split(lower)
    mx, my = split(mean)
    q.patch(ux + lx[::-1], uy + ly[::-1], fill_color=color, fill_alpha=0.5, line_color=None)
    r = q.line(mx, my, line_color=color, line_alpha=0.7, line_width=LINE_W, line_dash='49 30')

    legend = Legend(items=[('Transition Function Distribution', [r])], location='top_left', margin=20,
                    padding=26, glyph_width=250, glyph_height=77, label_height=77, label_standoff=45,
                    label_text_font=FONT, label_text_font_size='58px', label_text_color='black',
                    border_line_color='white', border_line_alpha=0,
                    background_fill_color='white', background_fill_alpha=0.05)
    q.add_layout(legend)
    return q


aus_ts = series_panel('Australia', AUS_TF, AUS_HD, 'red', (1970.58, 2020.36), (-0.0282, 1.0178),
                      (-1.2988, 2.6916), [1980, 1990, 2000, 2010, 2020], [-1, 0, 1, 2], 0)
swe_ts = series_panel('Sweden', SWE_TF, SWE_HD, 'blue', (1995.28, 2020.67), (-0.0275, 1.0064),
                      (-0.2207, 2.4385), [2000, 2005, 2010, 2015, 2020], [0, 0.5, 1, 1.5, 2], 1)
nor_ts = series_panel('Norway', NOR_TF, NOR_HD, 'green', (1996.34, 2019.64), (-0.0131, 1.0103),
                      (-1.849, 3.261), [2000, 2005, 2010, 2015], [-1, 0, 1, 2, 3], 0)

aus_dist = dist_panel('Australia', AUS_UPPER, AUS_LOWER, AUS_MEAN, 'red', (-1.305, 2.669),
                      [-1, 0, 1, 2], 0, 64, ROW_H[0])
swe_dist = dist_panel('Sweden', SWE_UPPER, SWE_LOWER, SWE_MEAN, 'blue', (-0.226, 2.423),
                      [0, 0.5, 1, 1.5, 2], 1, 51, ROW_H[1])
nor_dist = dist_panel('Norway', NOR_UPPER, NOR_LOWER, NOR_MEAN, 'green', (-1.855, 3.232),
                      [-1, 0, 1, 2, 3], 0, 64, ROW_H[2])

page = column(
    row(column(aus_ts, legend_strip('red', ROW_H[0] - TS_H)), aus_dist),
    row(column(swe_ts, legend_strip('blue', ROW_H[1] - TS_H)), swe_dist),
    row(column(nor_ts, legend_strip('green', ROW_H[2] - TS_H)), nor_dist),
)

open('out.html', 'w').write(file_html(page, INLINE))
